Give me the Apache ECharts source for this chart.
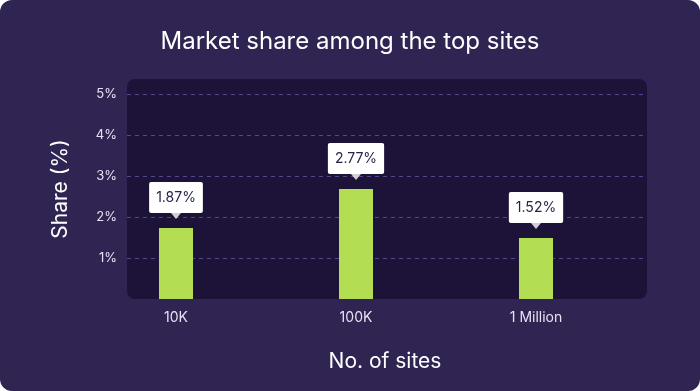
<!DOCTYPE html>
<html>
<head>
<meta charset="utf-8">
<script src="https://cdn.jsdelivr.net/npm/echarts@6/dist/echarts.min.js"></script>
<style>
  html, body { margin: 0; padding: 0; background: #ffffff; }
  #chart { width: 700px; height: 391px; background: #2f2452; border-radius: 12px; overflow: hidden; }
</style>
</head>
<body>
<div id="chart"></div>
<script>
// ---- data ----
const categories = ['10K', '100K', '1 Million'];
const shareValues = [1.73, 2.68, 1.49];          // bar heights as drawn
const shareLabels = ['1.87%', '2.77%', '1.52%']; // callout texts
const yTicks = [0, 1, 2, 3, 4, 5];
const titleText = 'Market share among the top sites';
const xAxisName = 'No. of sites';
const yAxisName = 'Share (%)';

const FONT = 'Inter, "Open Sans", sans-serif';
const chart = echarts.init(document.getElementById('chart'), null, { renderer: 'canvas' });

chart.setOption({
  backgroundColor: 'transparent',
  animation: false,
  textStyle: { fontFamily: FONT },
  title: {
    text: titleText,
    left: 'center',
    top: 25,
    textStyle: { color: '#ffffff', fontSize: 24, fontWeight: 'normal', fontFamily: FONT }
  },
  graphic: [
    {
      type: 'rect', z: -10, silent: true,
      shape: { x: 127, y: 79, width: 520, height: 220, r: 8 },
      style: { fill: '#1d1339' }
    },
    {
      type: 'text', silent: true,
      x: 61, y: 189, rotation: Math.PI / 2,
      style: { text: yAxisName, fill: '#ffffff', fontSize: 21, fontFamily: FONT,
               align: 'center', verticalAlign: 'middle' }
    }
  ],
  grid: [
    { left: 127, right: 57, top: 94, bottom: 92 },
    { left: 86, right: 74, top: 94, bottom: 92 }
  ],
  xAxis: [
    {
      gridIndex: 0, type: 'category', data: categories,
      axisLine: { show: false }, axisTick: { show: false }, axisLabel: { show: false },
      name: xAxisName, nameLocation: 'middle', nameGap: 52,
      nameTextStyle: { color: '#ffffff', fontSize: 21, fontFamily: FONT }
    },
    {
      gridIndex: 1, type: 'category', data: categories,
      axisLine: { show: false }, axisTick: { show: false },
      axisLabel: { color: '#e6e2f2', fontSize: 14, margin: 12, fontFamily: FONT }
    }
  ],
  yAxis: [
    {
      gridIndex: 0, type: 'value', min: yTicks[0], max: yTicks[yTicks.length - 1], interval: 1,
      axisLine: { show: false }, axisTick: { show: false },
      axisLabel: {
        color: '#e6e2f2', fontSize: 13, margin: 10, fontFamily: FONT,
        formatter: v => (v === 0 ? '' : v + '%')
      },
      splitLine: { show: true, showMinLine: false,
        lineStyle: { color: '#55478f', width: 1, type: [4, 4] } }
    },
    {
      gridIndex: 1, type: 'value', min: yTicks[0], max: yTicks[yTicks.length - 1], interval: 1,
      show: false, splitLine: { show: false }
    }
  ],
  series: [
    {
      type: 'bar', xAxisIndex: 1, yAxisIndex: 1,
      data: shareValues, barWidth: 34,
      itemStyle: { color: '#b3dd52' },
      label: {
        show: true, position: 'top', distance: 15,
        formatter: p => shareLabels[p.dataIndex],
        backgroundColor: '#ffffff', borderRadius: 2,
        padding: [7, 7, 6, 7], color: '#2b2149', fontSize: 14, fontFamily: FONT,
        lineHeight: 18
      }
    },
    {
      type: 'scatter', xAxisIndex: 1, yAxisIndex: 1,
      data: shareValues, silent: true,
      symbol: 'path://M0,0L10,0L5,6Z', symbolSize: [10, 6], symbolOffset: [0, -12],
      itemStyle: { color: '#ffffff' }, z: 3
    }
  ]
});
</script>
</body>
</html>
